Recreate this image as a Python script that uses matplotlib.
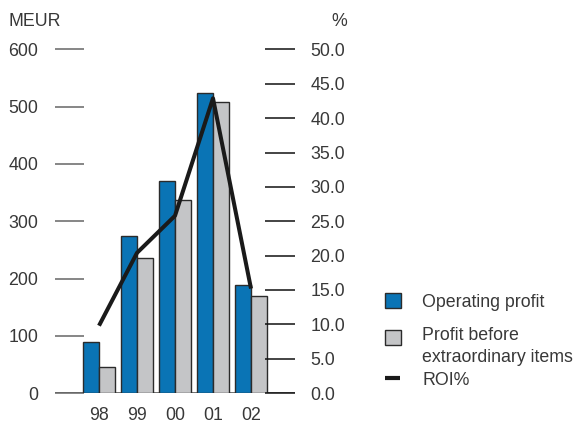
import numpy as np
import matplotlib
matplotlib.use("Agg")
import matplotlib.pyplot as plt
from matplotlib.patches import Rectangle
from matplotlib.lines import Line2D

plt.rcParams['font.family'] = ['Liberation Sans', 'DejaVu Sans']

years = ['98', '99', '00', '01', '02']
operating_profit = [89, 274, 370, 524, 189]
profit_before_extra = [45, 236, 337, 509, 170]
roi_pct = [9.8, 20.4, 25.8, 42.9, 15.2]

left_ticks = [0, 100, 200, 300, 400, 500, 600]
right_ticks = [0, 5, 10, 15, 20, 25, 30, 35, 40, 45, 50]

BLUE = '#0a74b5'
GRAY = '#c4c5c7'
EDGE = '#2b2b2b'
TXT = '#383838'
FS = 12.8

fig = plt.figure(figsize=(5.75, 4.23), dpi=100)
W, H = 575, 423
ax = fig.add_axes([55 / W, 30 / H, 240 / W, 343.5 / H])

x = np.arange(len(years))
bw = 0.408
ax.bar(x - bw / 2, operating_profit, bw, color=BLUE, edgecolor=EDGE, linewidth=1.0, zorder=3)
ax.bar(x + bw / 2, profit_before_extra, bw, color=GRAY, edgecolor=EDGE, linewidth=1.0, zorder=3)
ax.axhline(0, color='#666666', lw=1.3, zorder=2)

ax.set_xlim(-44 / 38, 196 / 38)
ax.set_ylim(0, 600)
ax.set_yticks(left_ticks)
ax.set_xticks(x)
ax.set_xticklabels(years)
ax.tick_params(axis='y', direction='in', length=21, width=1.1, color='#666666',
               pad=12, labelsize=FS, labelcolor=TXT)
ax.tick_params(axis='x', length=0, pad=10.3, labelsize=FS, labelcolor=TXT)
for s in ax.spines.values():
    s.set_visible(False)

ax2 = ax.twinx()
ax2.plot(x, roi_pct, color='#1a1a1a', lw=2.9, solid_capstyle='butt', zorder=4)
ax2.set_ylim(0, 50)
ax2.set_yticks(right_ticks)
ax2.set_yticklabels([f'{v:.1f}' for v in right_ticks])
ax2.tick_params(axis='y', direction='in', length=21.5, width=1.1, color='#111111',
                pad=11, labelsize=FS, labelcolor=TXT)
for s in ax2.spines.values():
    s.set_visible(False)

fig.text(8 / W, 1 - 21 / H, 'MEUR', fontsize=FS, color=TXT, va='center', ha='left')
fig.text(347 / W, 1 - 21 / H, '%', fontsize=FS, color=TXT, va='center', ha='right')

# legend drawn by hand
def fx(px):
    return px / W

def fy(py):
    return 1 - py / H

fig.add_artist(Rectangle((fx(385), fy(308)), 16 / W, 15 / H, transform=fig.transFigure,
                         facecolor=BLUE, edgecolor=EDGE, lw=1.0))
fig.add_artist(Rectangle((fx(385), fy(345)), 16 / W, 15 / H, transform=fig.transFigure,
                         facecolor=GRAY, edgecolor=EDGE, lw=1.0))
fig.add_artist(Line2D([fx(385), fx(400)], [fy(378), fy(378)], transform=fig.transFigure,
                      color='#1a1a1a', lw=3.0, solid_capstyle='butt'))
fig.text(fx(422), fy(302), 'Operating profit', fontsize=FS, color=TXT, va='center')
fig.text(fx(422), fy(335), 'Profit before', fontsize=FS, color=TXT, va='center')
fig.text(fx(422), fy(357), 'extraordinary items', fontsize=FS, color=TXT, va='center')
fig.text(fx(422), fy(380), 'ROI%', fontsize=FS, color=TXT, va='center')

fig.savefig('out.png', dpi=100)
